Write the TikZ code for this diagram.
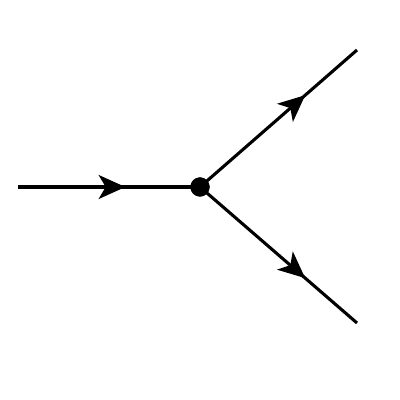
\documentclass[tikz,border=0pt]{standalone}
\usepackage{xcolor}
\usepackage{tikz}
\usetikzlibrary{arrows.meta, positioning, calc, decorations.markings}

\tikzset{
	line/.style={black, line width=2.2pt},
	midarrow/.style={postaction={decorate}, decoration={markings,
		mark=at position #1 with {\arrow{Stealth[length=19pt,width=17pt,inset=5pt]}}}},
	vertex/.style={circle, fill=black, inner sep=0pt, minimum size=0.48cm}
}

\begin{document}
\begin{tikzpicture}[scale=1]
				
				% Frame
				\useasboundingbox (0,0) rectangle (10,10);
				
				% Vertex and free ends
				\node[vertex] (v) at (5,5.325) {};
				\coordinate (in) at (0.45,5.325);
				\coordinate (outA) at (8.925,8.75);
				\coordinate (outB) at (8.925,1.925);
				
				% Incoming line
				\draw[line, midarrow=0.59] (in) -- (v.center);
				
				% Outgoing lines
				\draw[line, midarrow=0.67] (v.center) -- (outA);
				\draw[line, midarrow=0.67] (v.center) -- (outB);
				
				% Dot on top
				\node[vertex] at (v) {};
				
			\end{tikzpicture}
\end{document}
